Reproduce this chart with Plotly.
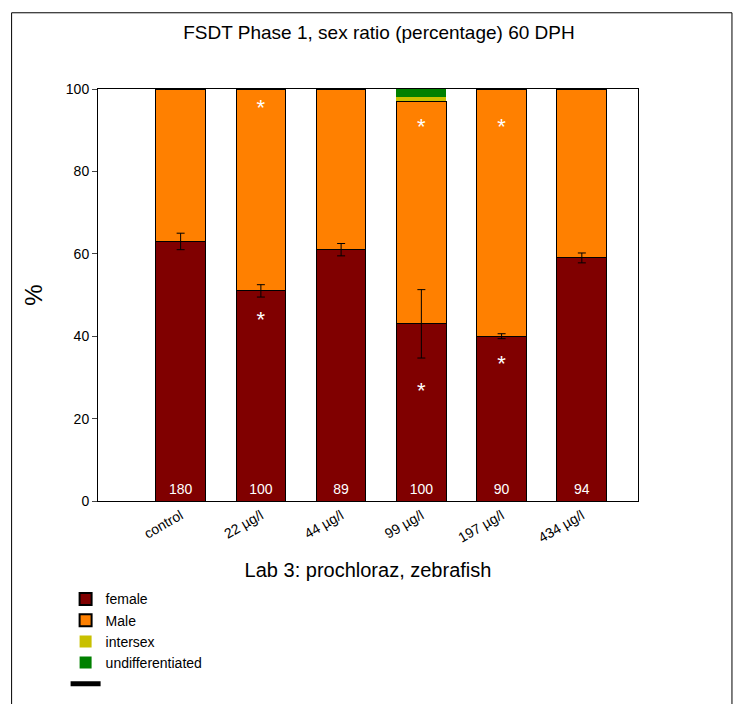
import plotly.graph_objects as go

cats = ["control", "22 µg/l", "44 µg/l", "99 µg/l", "197 µg/l", "434 µg/l"]
female = [63, 51, 61, 43, 40, 59]
female_err = [2.0, 1.5, 1.5, 8.3, 0.6, 1.2]
male = [37, 49, 39, 54.0, 60, 41]
intersex = [0, 0, 0, 1.0, 0, 0]
undiff = [0, 0, 0, 2.0, 0, 0]
counts = ["180", "100", "89", "100", "90", "94"]
star_x = ["22 µg/l", "22 µg/l", "99 µg/l", "99 µg/l", "197 µg/l", "197 µg/l"]
star_y = [43.5, 95, 26.4, 90.5, 33, 90.5]

fig = go.Figure()
bw = 0.62
line = dict(color="black", width=1)
fig.add_bar(x=cats, y=female, name="female", marker=dict(color="#800000", line=line), width=bw)
fig.add_bar(x=cats, y=male, name="Male", marker=dict(color="#ff8000", line=line), width=bw)
fig.add_bar(x=cats, y=intersex, name="intersex", marker=dict(color="#c8c000", line=dict(width=0)), width=bw)
fig.add_bar(x=cats, y=undiff, name="undifferentiated", marker=dict(color="#008000", line=dict(width=0)), width=bw)
fig.add_scatter(x=[None], y=[None], mode="lines", name=" ", line=dict(color="black", width=1))
# error bars on top of stacked bars
fig.add_scatter(x=cats, y=female, mode="markers", marker=dict(size=1, color="rgba(0,0,0,0)"), showlegend=False,
                error_y=dict(type="data", array=female_err, color="black", thickness=1, width=4))
fig.add_scatter(x=cats, y=[2.5] * 6, mode="text", text=counts, showlegend=False,
                textfont=dict(color="white", size=14), textposition="middle center")
fig.add_scatter(x=star_x, y=star_y, mode="text", text=["*"] * 6, showlegend=False,
                textfont=dict(color="white", size=22))

fig.add_shape(type="rect", xref="paper", yref="paper", x0=-0.16, x1=1.174, y0=-0.6, y1=1.185,
              line=dict(color="black", width=1))

fig.update_layout(
    barmode="stack", width=742, height=704, plot_bgcolor="white", paper_bgcolor="white",
    margin=dict(l=90, r=112, t=81, b=201),
    font=dict(family="Liberation Sans, Arial", color="black"),
    title=dict(text="FSDT Phase 1, sex ratio (percentage) 60 DPH", x=0.5, xanchor="center",
               y=0.965, yanchor="middle", font=dict(size=19)),
    xaxis=dict(range=[-1.03, 5.7], showline=True, linecolor="black", mirror=True,
               tickangle=-30, tickfont=dict(size=14), ticks="",
               title=dict(text="Lab 3: prochloraz, zebrafish", font=dict(size=20), standoff=18)),
    yaxis=dict(range=[0, 100], showline=True, linecolor="black", mirror=True, showgrid=False,
               ticks="outside", ticklen=5, tickvals=[0, 20, 40, 60, 80, 100], tickfont=dict(size=14),
               title=dict(text="%", font=dict(size=24), standoff=16)),
    legend=dict(x=-0.06, y=-0.2, xanchor="left", yanchor="top", font=dict(size=14),
                bgcolor="rgba(0,0,0,0)",
                traceorder="normal", tracegroupgap=0, itemsizing="constant"),
)
fig.write_html("out.html")
